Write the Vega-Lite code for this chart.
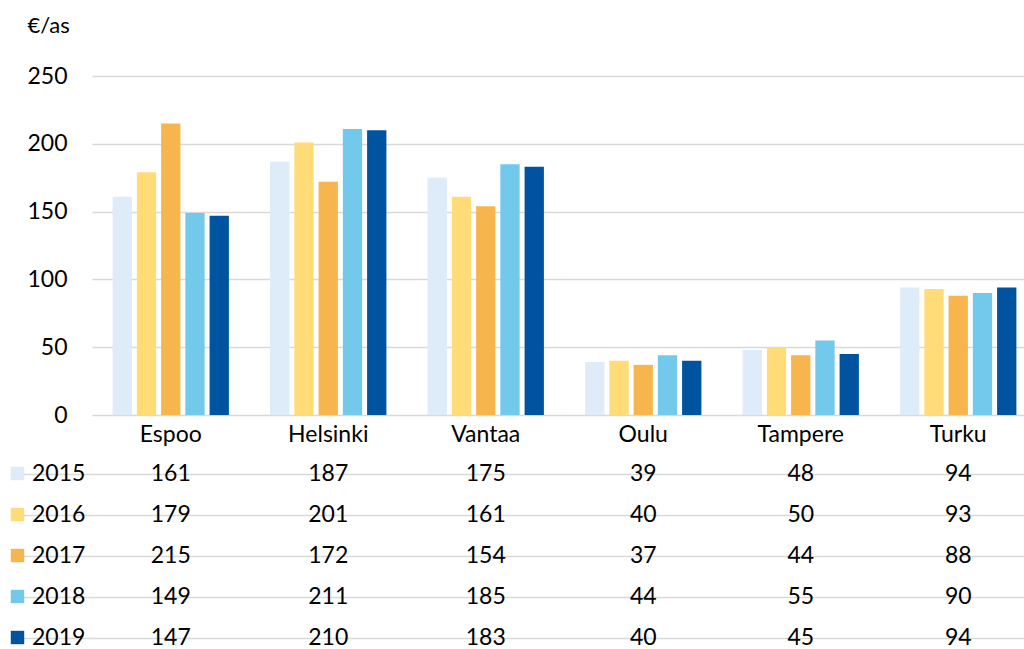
{
  "$schema": "https://vega.github.io/schema/vega-lite/v6.json",
  "padding": {"left": 6, "top": 14, "right": 0, "bottom": 0},
  "bounds": "flush",
  "spacing": 38,
  "config": {
    "font": "Lato",
    "view": {"stroke": null},
    "text": {"font": "Lato"}
  },
  "data": {
    "values": [
      {"city": "Espoo", "year": "2015", "value": 161},
      {"city": "Espoo", "year": "2016", "value": 179},
      {"city": "Espoo", "year": "2017", "value": 215},
      {"city": "Espoo", "year": "2018", "value": 149},
      {"city": "Espoo", "year": "2019", "value": 147},
      {"city": "Helsinki", "year": "2015", "value": 187},
      {"city": "Helsinki", "year": "2016", "value": 201},
      {"city": "Helsinki", "year": "2017", "value": 172},
      {"city": "Helsinki", "year": "2018", "value": 211},
      {"city": "Helsinki", "year": "2019", "value": 210},
      {"city": "Vantaa", "year": "2015", "value": 175},
      {"city": "Vantaa", "year": "2016", "value": 161},
      {"city": "Vantaa", "year": "2017", "value": 154},
      {"city": "Vantaa", "year": "2018", "value": 185},
      {"city": "Vantaa", "year": "2019", "value": 183},
      {"city": "Oulu", "year": "2015", "value": 39},
      {"city": "Oulu", "year": "2016", "value": 40},
      {"city": "Oulu", "year": "2017", "value": 37},
      {"city": "Oulu", "year": "2018", "value": 44},
      {"city": "Oulu", "year": "2019", "value": 40},
      {"city": "Tampere", "year": "2015", "value": 48},
      {"city": "Tampere", "year": "2016", "value": 50},
      {"city": "Tampere", "year": "2017", "value": 44},
      {"city": "Tampere", "year": "2018", "value": 55},
      {"city": "Tampere", "year": "2019", "value": 45},
      {"city": "Turku", "year": "2015", "value": 94},
      {"city": "Turku", "year": "2016", "value": 93},
      {"city": "Turku", "year": "2017", "value": 88},
      {"city": "Turku", "year": "2018", "value": 90},
      {"city": "Turku", "year": "2019", "value": 94}
    ]
  },
  "resolve": {"scale": {"x": "independent", "y": "independent"}},
  "vconcat": [
    {
      "width": 945,
      "height": 339,
      "mark": {"type": "bar"},
      "encoding": {
        "x": {
          "field": "city", "type": "nominal",
          "sort": ["Espoo", "Helsinki", "Vantaa", "Oulu", "Tampere", "Turku"],
          "scale": {"paddingInner": 0, "paddingOuter": 0},
          "axis": {"title": null, "labelAngle": 0, "domain": false, "ticks": false, "grid": false,
                   "labelFontSize": 23, "labelPadding": 8, "labelColor": "#000000"}
        },
        "xOffset": {
          "field": "year", "type": "nominal",
          "scale": {"paddingInner": 0.204, "paddingOuter": 0.85}
        },
        "y": {
          "field": "value", "type": "quantitative",
          "scale": {"domain": [0, 250], "nice": false},
          "axis": {
            "values": [0, 50, 100, 150, 200, 250],
            "title": "€/as", "titleAngle": 0, "titleAlign": "left", "titleBaseline": "middle",
            "titleX": -65, "titleY": -51, "titleFontSize": 22, "titleFontWeight": "normal", "titleColor": "#000000",
            "domain": false, "ticks": false, "labelPadding": 25, "labelFontSize": 23, "labelColor": "#000000",
            "grid": true, "gridColor": "#D9D9D9", "gridWidth": 1.5
          }
        },
        "color": {
          "field": "year", "type": "nominal",
          "scale": {
            "domain": ["2015", "2016", "2017", "2018", "2019"],
            "range": ["#DEEBF8", "#FFDC77", "#F7B54E", "#73C9EB", "#00539F"]
          },
          "legend": {
            "orient": "none", "legendX": -86, "legendY": 386,
            "title": null, "symbolType": "square", "symbolSize": 180, "symbolStrokeWidth": 0,
            "labelFontSize": 23, "labelColor": "#000000", "labelOffset": 3, "rowPadding": 17,
            "padding": 0
          }
        }
      }
    },
    {
      "width": 945,
      "height": 206,
      "mark": {"type": "text", "fontSize": 23, "baseline": "middle", "color": "#000000"},
      "encoding": {
        "x": {
          "field": "city", "type": "nominal",
          "sort": ["Espoo", "Helsinki", "Vantaa", "Oulu", "Tampere", "Turku"],
          "scale": {"paddingInner": 0, "paddingOuter": 0},
          "axis": null
        },
        "y": {
          "field": "year", "type": "nominal",
          "axis": {
            "title": null, "labels": false, "domain": false, "bandPosition": 1,
            "grid": true, "gridColor": "#D9D9D9", "gridWidth": 1.5,
            "ticks": true, "tickSize": 82, "tickColor": "#D9D9D9", "tickWidth": 1.5
          }
        },
        "text": {"field": "value", "type": "quantitative"}
      }
    }
  ]
}
